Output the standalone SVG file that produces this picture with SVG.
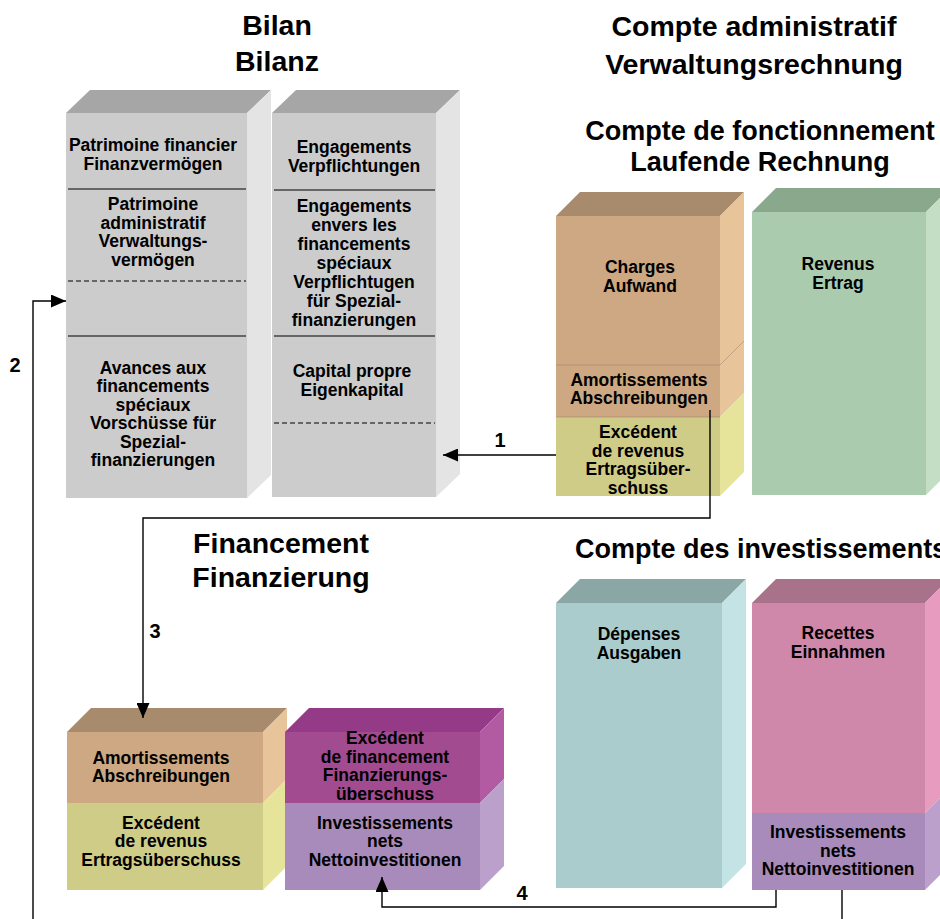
<svg xmlns="http://www.w3.org/2000/svg" width="940" height="919" viewBox="0 0 940 919">
<defs>
<style>
text{font-family:"Liberation Sans",Arial,sans-serif;font-weight:bold;fill:#000;text-anchor:middle}
.t{font-size:17.5px}
.h1{font-size:28.5px}
.h2{font-size:27px}
.lbl{font-size:20px}
.div{stroke:#000;stroke-width:1.2;fill:none}
.dash{stroke:#000;stroke-width:1.1;stroke-dasharray:5 3;fill:none}
.sep{stroke:#8a7060;stroke-width:0.8;stroke-opacity:0.5;fill:none}
.con{stroke:#000;stroke-width:1.4;fill:none}
.grayF{fill:#cccccc}.grayT{fill:#a6a6a6}.grayS{fill:#e4e4e4}
.tanF{fill:#cda882}.tanT{fill:#a88b6c}.tanS{fill:#e8c49a}
.yelF{fill:#cfcc88}.yelS{fill:#e6e49a}
.grnF{fill:#abcbae}.grnT{fill:#8aa88c}.grnS{fill:#c4dec6}
.cyaF{fill:#abcccd}.cyaT{fill:#8aa7a6}.cyaS{fill:#c3e3e5}
.pnkF{fill:#d088aa}.pnkT{fill:#a8728a}.pnkS{fill:#e69bbf}
.purF{fill:#a98bbb}.purS{fill:#bca0cc}
.magF{fill:#a34b91}.magT{fill:#943a86}.magS{fill:#b35ba2}
</style>
<marker id="ah" markerWidth="15" markerHeight="13" refX="15" refY="6.5" orient="auto" markerUnits="userSpaceOnUse">
<path d="M0,0 L15,6.5 L0,13 Z" fill="#000"/>
</marker>
</defs>
<rect width="940" height="919" fill="#fff"/>

<g id="titles">
<text class="h1" x="277" y="35">Bilan</text>
<text class="h1" x="277" y="71">Bilanz</text>
<text class="h1" x="754" y="36">Compte administratif</text>
<text class="h1" x="754" y="74">Verwaltungsrechnung</text>
<text class="h2" x="760" y="140">Compte de fonctionnement</text>
<text class="h2" x="760" y="171">Laufende Rechnung</text>
<text class="h1" x="281" y="553">Financement</text>
<text class="h1" x="281" y="587">Finanzierung</text>
<text class="h2" x="575" y="558" style="text-anchor:start">Compte des investissements</text>
</g>

<g id="bilan-actif">
<polygon class="grayT" points="66,113 90,90 271,90 247,113"/>
<polygon class="grayS" points="247,113 271,90 271,475 247,498"/>
<rect class="grayF" x="66" y="113" width="181" height="385"/>
<line class="div" x1="68" y1="189" x2="246" y2="189"/>
<line class="dash" x1="68" y1="281" x2="246" y2="281"/>
<line class="div" x1="68" y1="336" x2="246" y2="336"/>
<text class="t" x="153" y="151">Patrimoine financier</text>
<text class="t" x="153" y="169.5">Finanzvermögen</text>
<text class="t" x="153" y="210">Patrimoine</text>
<text class="t" x="153" y="228.5">administratif</text>
<text class="t" x="153" y="247">Verwaltungs-</text>
<text class="t" x="153" y="265.5">vermögen</text>
<text class="t" x="153" y="373.5">Avances aux</text>
<text class="t" x="153" y="392">financements</text>
<text class="t" x="153" y="410.5">spéciaux</text>
<text class="t" x="153" y="429">Vorschüsse für</text>
<text class="t" x="153" y="447.5">Spezial-</text>
<text class="t" x="153" y="466">finanzierungen</text>
</g>

<g id="bilan-passif">
<polygon class="grayT" points="272,113 296,90 460,90 436,113"/>
<polygon class="grayS" points="436,113 460,90 460,474 436,497"/>
<rect class="grayF" x="272" y="113" width="164" height="384"/>
<line class="div" x1="274" y1="190" x2="435" y2="190"/>
<line class="div" x1="274" y1="336" x2="435" y2="336"/>
<line class="dash" x1="274" y1="423" x2="435" y2="423"/>
<text class="t" x="354" y="153">Engagements</text>
<text class="t" x="354" y="171.5">Verpflichtungen</text>
<text class="t" x="354" y="212">Engagements</text>
<text class="t" x="354" y="231">envers les</text>
<text class="t" x="354" y="250">financements</text>
<text class="t" x="354" y="269">spéciaux</text>
<text class="t" x="354" y="288">Verpflichtugen</text>
<text class="t" x="354" y="307">für Spezial-</text>
<text class="t" x="354" y="326">finanzierungen</text>
<text class="t" x="352" y="377">Capital propre</text>
<text class="t" x="352" y="395.5">Eigenkapital</text>
</g>

<g id="fonctionnement-charges">
<polygon class="tanT" points="556,216 580,192 744,192 720,216"/>
<polygon class="tanS" points="720,216 744,192 744,393 720,417"/>
<polygon class="yelS" points="720,417 744,393 744,472 720,496"/>
<line class="sep" x1="720" y1="365" x2="744" y2="341"/>
<rect class="tanF" x="556" y="216" width="164" height="201"/>
<rect class="yelF" x="556" y="417" width="164" height="79"/>
<line class="sep" x1="556" y1="365" x2="720" y2="365"/>
<line class="sep" x1="556" y1="417" x2="720" y2="417"/>
<text class="t" x="640" y="273">Charges</text>
<text class="t" x="640" y="291.5">Aufwand</text>
<text class="t" x="639" y="385.5">Amortissements</text>
<text class="t" x="639" y="404">Abschreibungen</text>
<text class="t" x="638" y="438">Excédent</text>
<text class="t" x="638" y="456.5">de revenus</text>
<text class="t" x="638" y="475">Ertragsüber-</text>
<text class="t" x="638" y="493.5">schuss</text>
</g>

<g id="fonctionnement-revenus">
<polygon class="grnT" points="752,212 776,188 950,188 926,212"/>
<polygon class="grnS" points="926,212 950,188 950,471 926,495"/>
<rect class="grnF" x="752" y="212" width="174" height="283"/>
<text class="t" x="838" y="270">Revenus</text>
<text class="t" x="838" y="288.5">Ertrag</text>
</g>

<g id="investissements-depenses">
<polygon class="cyaT" points="556,603 580,579 746,579 722,603"/>
<polygon class="cyaS" points="722,603 746,579 746,864 722,888"/>
<rect class="cyaF" x="556" y="603" width="166" height="285"/>
<text class="t" x="639" y="640">Dépenses</text>
<text class="t" x="639" y="658.5">Ausgaben</text>
</g>

<g id="investissements-recettes">
<polygon class="pnkT" points="752,603 776,579 949,579 925,603"/>
<polygon class="pnkS" points="925,603 949,579 949,789 925,813"/>
<polygon class="purS" points="925,813 949,789 949,866 925,890"/>
<rect class="pnkF" x="752" y="603" width="173" height="210"/>
<rect class="purF" x="752" y="813" width="173" height="77"/>
<text class="t" x="838" y="639">Recettes</text>
<text class="t" x="838" y="657.5">Einnahmen</text>
<text class="t" x="838" y="838">Investissements</text>
<text class="t" x="838" y="856.5">nets</text>
<text class="t" x="838" y="875">Nettoinvestitionen</text>
</g>

<g id="financement-gauche">
<polygon class="tanT" points="67,732 91,708 287,708 263,732"/>
<polygon class="tanS" points="263,732 287,708 287,779 263,803"/>
<polygon class="yelS" points="263,803 287,779 287,866 263,890"/>
<rect class="tanF" x="67" y="732" width="196" height="71"/>
<rect class="yelF" x="67" y="803" width="196" height="87"/>
<text class="t" x="161" y="763.5">Amortissements</text>
<text class="t" x="161" y="782">Abschreibungen</text>
<text class="t" x="161" y="828.5">Excédent</text>
<text class="t" x="161" y="847">de revenus</text>
<text class="t" x="161" y="865.5">Ertragsüberschuss</text>
</g>

<g id="financement-droite">
<polygon class="magT" points="285,732 309,708 504,708 480,732"/>
<polygon class="magS" points="480,732 504,708 504,779 480,803"/>
<polygon class="purS" points="480,803 504,779 504,866 480,890"/>
<rect class="magF" x="285" y="732" width="195" height="71"/>
<rect class="purF" x="285" y="803" width="195" height="87"/>
<text class="t" x="385" y="744">Excédent</text>
<text class="t" x="385" y="762.5">de financement</text>
<text class="t" x="385" y="781">Finanzierungs-</text>
<text class="t" x="385" y="799.5">überschuss</text>
<text class="t" x="385" y="828.5">Investissements</text>
<text class="t" x="385" y="847">nets</text>
<text class="t" x="385" y="865.5">Nettoinvestitionen</text>
</g>

<g id="connectors">
<path class="con" d="M556,455 H443" marker-end="url(#ah)"/>
<path class="con" d="M33,919 V301 H66" marker-end="url(#ah)"/>
<path class="con" d="M710,410 V518 H143 V718" marker-end="url(#ah)"/>
<path class="con" d="M776,890 V907 H382 V877" marker-end="url(#ah)"/>
<path class="con" d="M842,890 V919"/>
<text class="lbl" x="500" y="447">1</text>
<text class="lbl" x="15" y="372">2</text>
<text class="lbl" x="155" y="638">3</text>
<text class="lbl" x="522" y="900">4</text>
</g>
</svg>
